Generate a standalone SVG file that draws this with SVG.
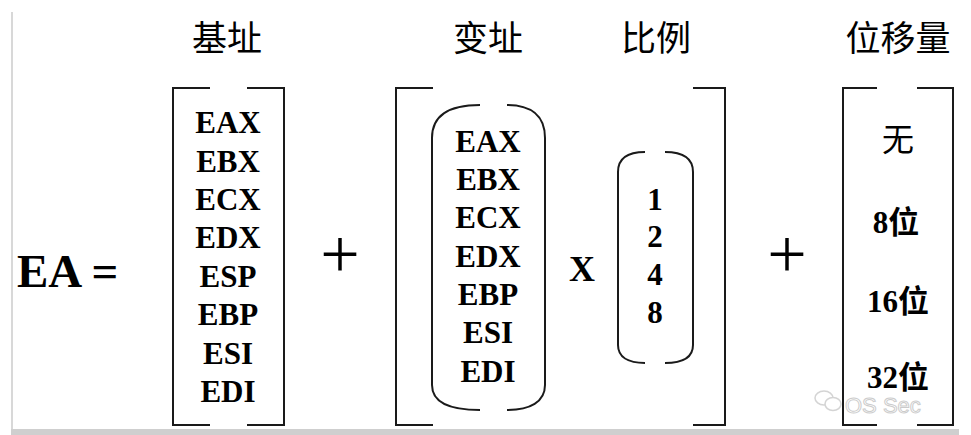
<svg xmlns="http://www.w3.org/2000/svg" width="971" height="435" viewBox="0 0 971 435">
<style>
.bk{fill:none;stroke:#1a1a1a;stroke-width:2}
.reg{font-family:"Liberation Serif","Times New Roman",serif;font-weight:bold;font-size:31px;fill:#000;text-anchor:middle}
.hd{font-family:"Noto Sans CJK SC","Noto Sans CJK TC",sans-serif;font-size:35px;fill:#000;text-anchor:middle}
.plus{font-family:"Liberation Serif",serif;font-size:70px;fill:#000;text-anchor:middle}
.disp{font-family:"Liberation Serif","Noto Sans CJK SC",serif;font-weight:bold;font-size:31px;fill:#000;text-anchor:middle}
</style>
<rect width="971" height="435" fill="#fff"/>
<line x1="12" y1="12" x2="12" y2="430" stroke="#d8d8d8" stroke-width="2"/>
<rect x="11" y="429" width="948" height="6" fill="#cfcfcf"/>

<g id="ea">
<text x="17" y="287" style="font-family:'Liberation Serif',serif;font-weight:bold;font-size:47px">EA =</text>
</g>

<g id="base">
<text class="hd" x="227" y="51">基址</text>
<path class="bk" d="M210,88 H173 V425 H210 M247,88 H284 V425 H247"/>
<text class="reg" x="228" y="133">EAX</text>
<text class="reg" x="228" y="172">EBX</text>
<text class="reg" x="228" y="210">ECX</text>
<text class="reg" x="228" y="248">EDX</text>
<text class="reg" x="228" y="287">ESP</text>
<text class="reg" x="228" y="325">EBP</text>
<text class="reg" x="228" y="364">ESI</text>
<text class="reg" x="228" y="402">EDI</text>
</g>

<g id="plus1"><text class="plus" x="340" y="278">+</text></g>

<g id="index">
<text class="hd" x="488" y="51">变址</text>
<path class="bk" d="M433,88 H396 V425 H433 M693,88 H725 V425 H693"/>
<path class="bk" d="M480,105 C450,105 432,115 432,138 L432,385 C432,402 450,410 480,410 M507,105 C530,105 545,115 545,138 L545,385 C545,402 530,410 507,410"/>
<text class="reg" x="488" y="152">EAX</text>
<text class="reg" x="488" y="190">EBX</text>
<text class="reg" x="488" y="228">ECX</text>
<text class="reg" x="488" y="267">EDX</text>
<text class="reg" x="488" y="305">EBP</text>
<text class="reg" x="488" y="343">ESI</text>
<text class="reg" x="488" y="382">EDI</text>
</g>

<g id="times"><text class="reg" x="582" y="281" style="font-size:36px">X</text></g>

<g id="scale">
<text class="hd" x="656" y="51">比例</text>
<path class="bk" d="M645,152 C628,152 618,158 618,172 L618,345 C618,357 628,363 645,363 M665,152 C683,152 693,158 693,172 L693,345 C693,357 683,363 665,363"/>
<text class="reg" x="655" y="210">1</text>
<text class="reg" x="655" y="247">2</text>
<text class="reg" x="655" y="285">4</text>
<text class="reg" x="655" y="323">8</text>
</g>

<g id="plus2"><text class="plus" x="787" y="278">+</text></g>

<g id="disp">
<text class="hd" x="898" y="51">位移量</text>
<path class="bk" d="M877,88 H843 V425 H877 M917,88 H953 V425 H917"/>
<text class="hd" x="898" y="151" style="font-size:32px">无</text>
<text class="disp" x="896" y="233">8位</text>
<text class="disp" x="898" y="312">16位</text>
<text class="disp" x="898" y="388">32位</text>
</g>

<g id="watermark" opacity="0.5">
<ellipse cx="824" cy="398" rx="9" ry="7" fill="#fff" stroke="#aaa" stroke-width="1.5"/>
<ellipse cx="833" cy="404" rx="8" ry="6.5" fill="#fff" stroke="#aaa" stroke-width="1.5"/>
<text x="845" y="413" style="font-family:'Liberation Sans',sans-serif;font-size:22px;fill:#fff;stroke:#999;stroke-width:1">OS Sec</text>
</g>
</svg>
